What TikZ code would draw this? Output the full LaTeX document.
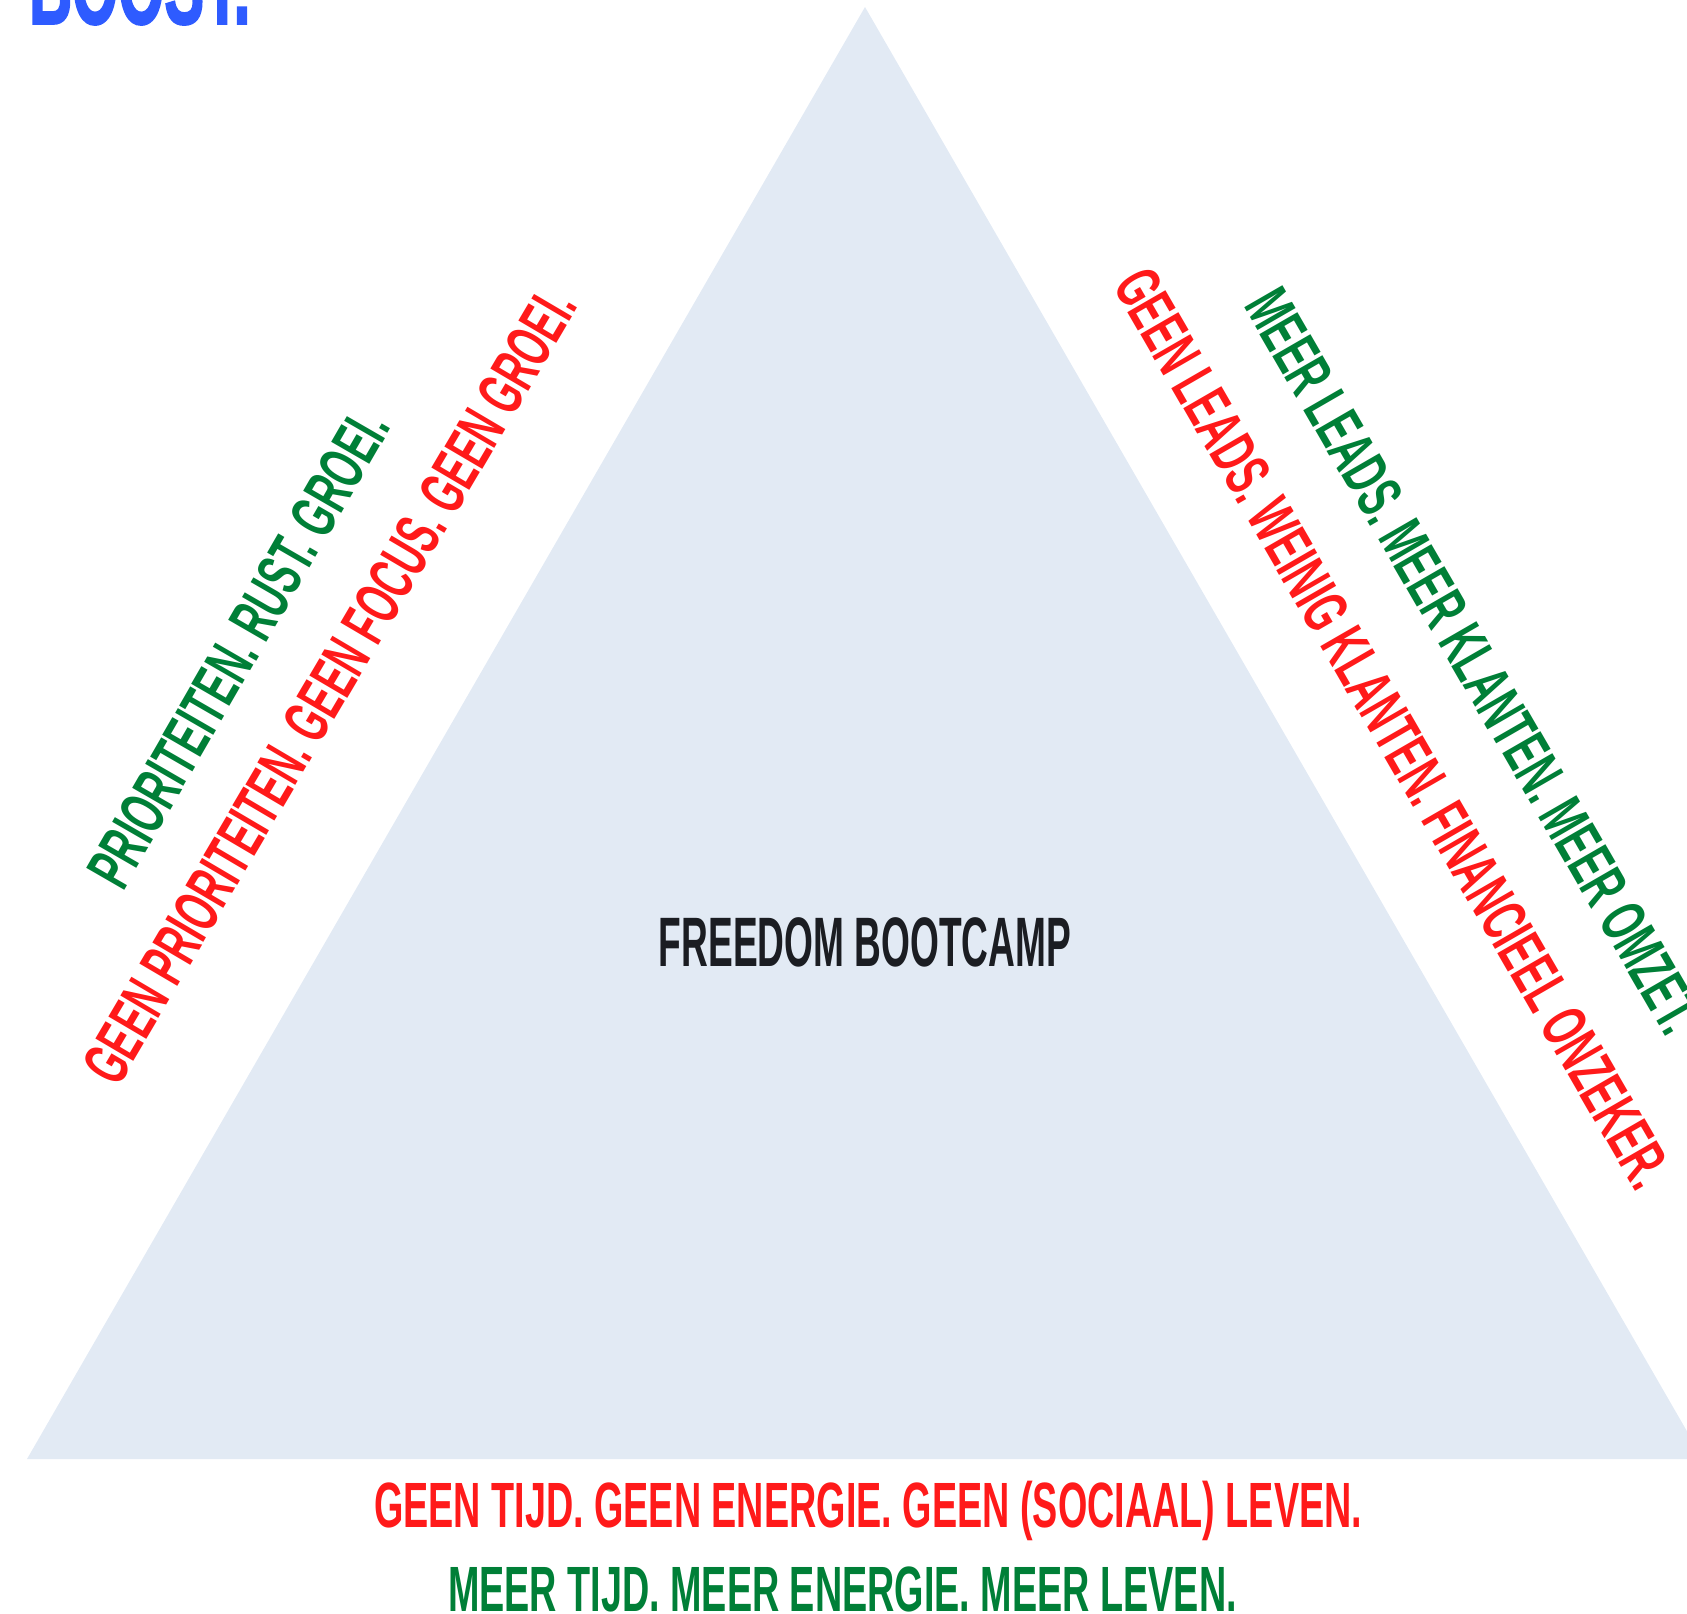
\documentclass[tikz,border=0pt]{standalone}
\usepackage{fontspec}
\newfontfamily\bbfont[FakeStretch=0.59]{Liberation Sans}
\newfontfamily\bbnarrow[FakeStretch=0.58]{Liberation Sans}
\newfontfamily\bbtitle[FakeStretch=0.53]{Liberation Sans}
\newfontfamily\bbboost[FakeStretch=0.53,FakeBold=1.5]{Liberation Sans}
\definecolor{tri}{HTML}{E2EAF4}
\definecolor{bad}{HTML}{FF1A1A}
\definecolor{good}{HTML}{007F37}
\definecolor{ink}{HTML}{1B1D22}
\definecolor{boost}{HTML}{2E5BFF}
\tikzset{
  slogan/.style={inner sep=0pt, outer sep=0pt, anchor=base west,
    font=\bbfont\bfseries\fontsize{64}{64}\selectfont},
  badtxt/.style={slogan, text=bad},
  goodtxt/.style={slogan, text=good},
}
\begin{document}
\begin{tikzpicture}[x=1pt,y=-1pt]
\useasboundingbox (0,0) rectangle (1687,1614);
\clip (0,0) rectangle (1687,1614);
% triangle
\fill[tri] (27,1459) -- (865,7) -- (1703,1459) -- cycle;
\coordinate (apex) at (865,7);
% title
\node[inner sep=0pt, anchor=base, text=ink,
  font=\bbtitle\bfseries\fontsize{70}{70}\selectfont] (title) at (865,966) {FREEDOM BOOTCAMP};
% boost
\node[inner sep=0pt, anchor=base west, text=boost,
  font=\bbboost\bfseries\fontsize{112}{112}\selectfont] (boost) at (29,24) {BOOST.};
% bottom
\node[badtxt] (botbad) at (374,1527) {GEEN TIJD. GEEN ENERGIE. GEEN (SOCIAAL) LEVEN.};
\node[goodtxt] (botgood) at (448,1611) {MEER TIJD. MEER ENERGIE. MEER LEVEN.};
% left
\node[goodtxt, rotate=60] (leftgood) at (123,892) {PRIORITEITEN. RUST. GROEI.};
\node[badtxt, rotate=59.5, font=\bbnarrow\bfseries\fontsize{64}{64}\selectfont] (leftbad) at (118,1088) {GEEN PRIORITEITEN. GEEN FOCUS. GEEN GROEI.};
% right
\node[badtxt, rotate=-60] (rightbad) at (1112,285) {GEEN LEADS. WEINIG KLANTEN. FINANCIEEL ONZEKER.};
\node[goodtxt, rotate=-60] (rightgood) at (1243,305) {MEER LEADS. MEER KLANTEN. MEER OMZET.};
\end{tikzpicture}
\end{document}
